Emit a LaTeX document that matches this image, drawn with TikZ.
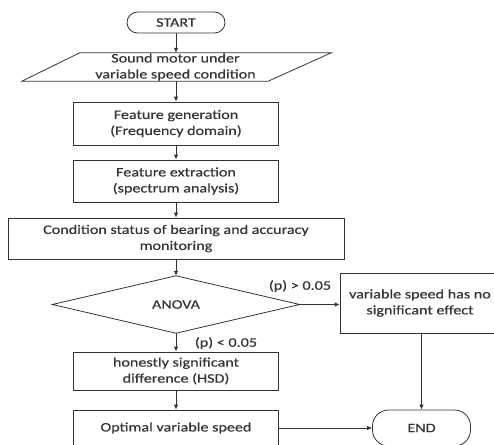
\documentclass[tikz,border=0pt]{standalone}
\usepackage{fontspec}
\setmainfont{Carlito}[FakeStretch=1.24, FakeBold=0.4]
\usetikzlibrary{arrows.meta}
\begin{document}
\begin{tikzpicture}[x=1pt,y=-1pt,
  line/.style={draw=black!80, line width=0.8pt},
  arr/.style={line, -{Latex[length=5pt,width=4.5pt]}},
  box/.style={line, rectangle, align=center, inner sep=0pt, minimum width=205pt},
  terminal/.style={line, rectangle, rounded corners=10.5pt, inner sep=0pt, minimum width=98pt},
  lbl/.style={inner sep=0pt}
  ]
  \tikzset{every node/.append style={font=\fontsize{13}{16}\selectfont, text=black!80}}
  \useasboundingbox (0,0) rectangle (494,444);
  \clip (0,0) rectangle (494,444);

  % main column
  \node[terminal, minimum height=21pt] (start) at (176,22.5) {START};
  \node[inner sep=0pt, minimum width=249pt, minimum height=28pt, align=center] (input) at (175.5,67) {Sound motor under\\variable speed condition};
  \draw[line] ([xshift=29pt]input.north west) -- ([xshift=31pt]input.north east)
              -- ([xshift=-32pt]input.south east) -- ([xshift=-29pt]input.south west) -- cycle;
  \node[box, minimum height=43pt] (gen) at (176,123.5) {Feature generation\\(Frequency domain)};
  \node[box, minimum height=42pt] (ext) at (176,181) {Feature extraction\\(spectrum analysis)};
  \node[box, minimum width=336pt, minimum height=41pt] (cond) at (176,238.5) {Condition status of bearing and accuracy\\monitoring};
  \node[inner sep=0pt, minimum width=247pt, minimum height=57pt] (anova) at (176,304.5) {ANOVA};
  \draw[line] (anova.north) -- (anova.east) -- (anova.south) -- (anova.west) -- cycle;
  \node[box, minimum height=38pt] (hsd) at (176,371) {honestly significant\\difference (HSD)};
  \node[box, minimum height=36pt] (opt) at (176,428) {Optimal variable speed};

  % right branch
  \node[box, minimum width=160pt, minimum height=60pt] (noeff) at (420,303) {variable speed has no\\significant effect};
  \node[terminal, minimum height=36pt, rounded corners=16pt] (end) at (421.5,428) {END};

  % connectors
  \draw[arr] (start) -- (input.north -| start.south);
  \draw[arr] (input.south -| gen.north) -- (gen);
  \draw[arr] (gen) -- (ext);
  \draw[arr] (ext) -- (cond);
  \draw[arr] (cond) -- (anova.north);
  \draw[arr] (anova.east) -- (anova.east -| noeff.west);
  \draw[arr] (anova.south) -- (hsd);
  \draw[arr] (hsd) -- (opt);
  \draw[arr] (opt) -- (end);
  \draw[arr] (noeff.south -| end.north) -- (end.north);

  % branch labels
  \node[lbl] (gt) at (300,286) {(p) > 0.05};
  \node[lbl] (lt) at (226,343) {(p) < 0.05};
\end{tikzpicture}
\end{document}
